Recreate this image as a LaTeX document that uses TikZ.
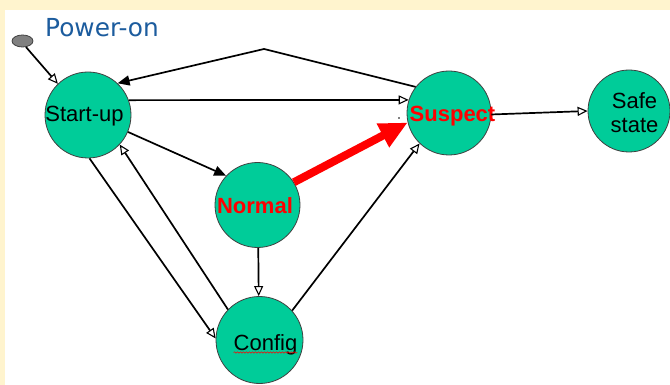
\documentclass[tikz,border=0pt]{standalone}
\usepackage{fontspec}
\setmainfont{Liberation Sans}
\newfontfamily\verafont{DejaVu Sans}
\usetikzlibrary{arrows.meta,shapes.geometric,decorations.pathmorphing}
\definecolor{pagecream}{RGB}{255,244,206}
\definecolor{stategreen}{RGB}{0,204,153}
\definecolor{titleblue}{RGB}{28,92,158}
\definecolor{rimgray}{RGB}{64,64,64}
\begin{document}
\begin{tikzpicture}[x=1pt,y=-1pt,
  state/.style={circle, fill=stategreen, draw=rimgray, line width=0.8pt,
                minimum size=#1, inner sep=0pt},
  state/.default=86pt,
  label22/.style={anchor=base, inner sep=0pt, font=\fontsize{22}{26}\selectfont},
  hot/.style={label22, text=red, font=\fontsize{22}{26}\selectfont\bfseries},
  flow/.style={draw=black, line width=1.7pt},
  openhead/.style={-{Triangle[fill=white, length=10pt, width=9pt, line width=1.1pt]}},
  solidhead/.style={-{Triangle[length=12pt, width=10pt]}},
]
% page background and white panel
\fill[pagecream] (0,0) rectangle (670,385);
\fill[white] (5,10) rectangle (670,385);
\useasboundingbox (0,0) rectangle (670,385);

% title and initial pseudo-state
\node[anchor=base west, inner sep=0pt, text=titleblue,
      font=\verafont\fontsize{24.8}{29}\selectfont] (title) at (45,37) {Power-on};
\node[ellipse, fill=gray, draw=rimgray, line width=0.8pt,
      minimum width=21pt, minimum height=12pt, inner sep=0pt] (poweron) at (22.5,41) {};

% states
\node[state] (startup) at (88,115) {};
\node[state=85pt] (normal) at (257.5,205) {};
\node[state=87pt] (config) at (259.5,340) {};
\node[state=84pt] (suspect) at (449,113) {};
\node[state=82pt] (safe) at (629,111) {};

% state labels
\node[label22] (startupT) at (84.5,122) {Start-up};
\node[hot] (normalT) at (255,214) {Normal};
\node[label22] (configT) at (265.5,350) {Config};
\node[hot] (suspectT) at (452.5,122) {Suspect};
\node[label22] (safeT1) at (634.5,109) {Safe};
\node[label22] (safeT2) at (634.5,132.5) {state};

% spell-check squiggle under Config
\draw[red, line width=0.5pt, decorate,
      decoration={snake, amplitude=0.7pt, segment length=3pt}]
  ([yshift=-2.5pt]configT.base west) -- ([yshift=-2.5pt]configT.base east);

% stray dot
\fill (399,118) circle (0.8);

% transitions
\coordinate (bend) at (264,49);
\draw[flow, openhead] (poweron.-60) -- (startup.134);
\draw[flow, solidhead] (suspect.142) -- (bend) -- (startup.47);
\draw[flow, openhead] (startup.20) -- (suspect.162);
\draw[flow, solidhead] (startup.-23) -- (normal.137);
\draw[flow, openhead] (startup.-88) -- (config.178);
\draw[flow, openhead] (config.136) -- (startup.-43);
\draw[flow, openhead] (normal.-89) -- (config.91);
\draw[flow, openhead] (config.42) -- (suspect.-134);
\draw[flow, openhead] (suspect.-2) -- (safe.180);
\draw[red, line width=8pt, -{Triangle[length=28pt, width=25pt]}]
  (normal.32) -- (suspect.193);
\end{tikzpicture}
\end{document}
